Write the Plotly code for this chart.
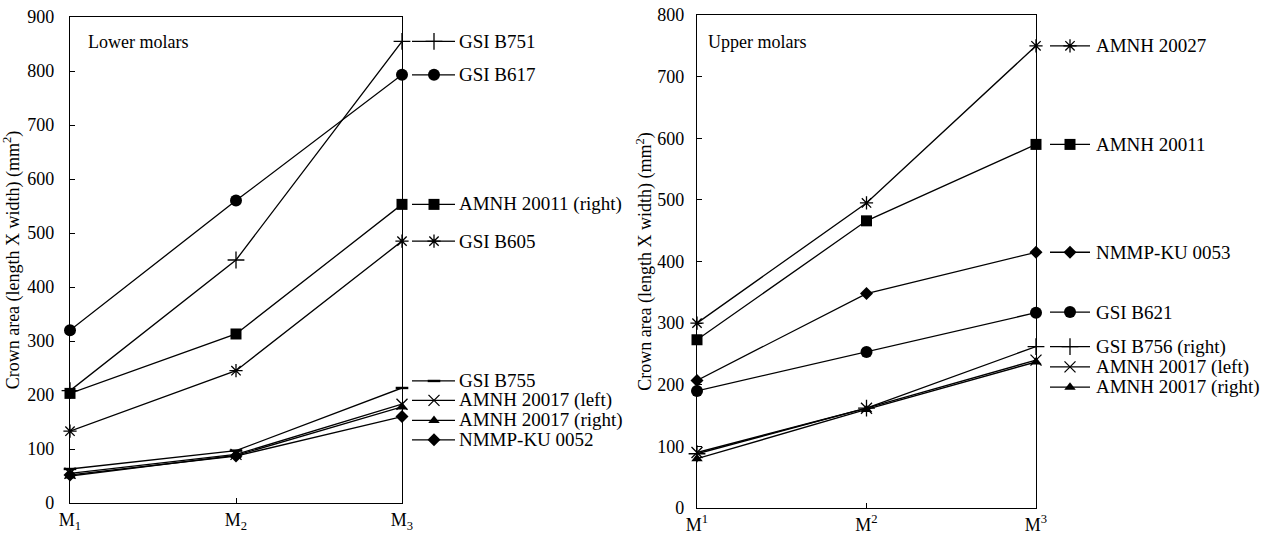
import plotly.graph_objects as go

# ---------------- data ----------------
tooth_pos = [0, 1, 2]
lower_ticks = ["M<sub>1</sub>", "M<sub>2</sub>", "M<sub>3</sub>"]
upper_ticks = ["M<sup>1</sup>", "M<sup>2</sup>", "M<sup>3</sup>"]

# Lower molars crown area (mm^2)
gsi_b751 = [208, 450, 855]
gsi_b617 = [320, 560, 793]
amnh_20011_right_lower = [203, 313, 553]
gsi_b605 = [133, 245, 485]
gsi_b755 = [63, 97, 213]
amnh_20017_left_lower = [55, 90, 183]
amnh_20017_right_lower = [50, 88, 178]
nmmp_ku_0052 = [52, 87, 160]

# Upper molars crown area (mm^2)
amnh_20027 = [300, 495, 750]
amnh_20011_upper = [273, 466, 590]
nmmp_ku_0053 = [207, 348, 415]
gsi_b621 = [190, 253, 317]
gsi_b756_right = [88, 162, 262]
amnh_20017_left_upper = [90, 162, 240]
amnh_20017_right_upper = [80, 160, 237]

# ---------------- styles ----------------
FONT = "Liberation Serif, 'Times New Roman', Times, 'DejaVu Serif', serif"
W, H = 1268, 538

# (name, values, symbol, size, label level in axis units)
lower_series = [
    ("GSI B751", gsi_b751, "cross-thin-open", 12, 855),
    ("GSI B617", gsi_b617, "circle", 12, 793),
    ("AMNH 20011 (right)", amnh_20011_right_lower, "square", 11, 553),
    ("GSI B605", gsi_b605, "asterisk-open", 11, 485),
    ("GSI B755", gsi_b755, "line-ew-open", 9, 226),
    ("AMNH 20017 (left)", amnh_20017_left_lower, "x-thin-open", 11, 190),
    ("AMNH 20017 (right)", amnh_20017_right_lower, "triangle-up", 10, 153),
    ("NMMP-KU 0052", nmmp_ku_0052, "diamond", 10, 117),
]
upper_series = [
    ("AMNH 20027", amnh_20027, "asterisk-open", 11, 750),
    ("AMNH 20011", amnh_20011_upper, "square", 11, 590),
    ("NMMP-KU 0053", nmmp_ku_0053, "diamond", 10, 415),
    ("GSI B621", gsi_b621, "circle", 12, 318),
    ("GSI B756 (right)", gsi_b756_right, "cross-thin-open", 12, 262),
    ("AMNH 20017 (left)", amnh_20017_left_upper, "x-thin-open", 11, 229),
    ("AMNH 20017 (right)", amnh_20017_right_upper, "triangle-up", 10, 196),
]

# panel geometry in pixels
L_X0, L_X1, L_Y0, L_Y1 = 70, 402, 503, 17
R_X0, R_X1, R_Y0, R_Y1 = 697, 1036, 508, 15


def dom_x(a, b):
    return [a / W, b / W]


def dom_y(bottom, top):
    return [(H - bottom) / H, (H - top) / H]


fig = go.Figure()


def marker_style(symbol, size):
    open_sym = symbol.endswith("open")
    lw = 2.4 if symbol.startswith("line") else (1.3 if open_sym else 0)
    return dict(symbol=symbol, size=size, color="black", opacity=1,
                line=dict(color="black", width=lw))


def add_panel(series, xa, ya, xa_lab, ya_lab, s0, s1, smid, tx):
    for name, vals, sym, size, lvl in series:
        fig.add_trace(go.Scatter(
            x=tooth_pos, y=vals, mode="lines+markers", xaxis=xa, yaxis=ya,
            line=dict(color="black", width=1.3), marker=marker_style(sym, size),
            cliponaxis=False, showlegend=False, hoverinfo="skip"))
        # label sample: line then marker
        fig.add_trace(go.Scatter(
            x=[s0, s1], y=[lvl, lvl], mode="lines",
            xaxis=xa_lab, yaxis=ya_lab, line=dict(color="black", width=1.3),
            cliponaxis=False, showlegend=False, hoverinfo="skip"))
        fig.add_trace(go.Scatter(
            x=[smid], y=[lvl], mode="markers",
            xaxis=xa_lab, yaxis=ya_lab, marker=marker_style(sym, size),
            cliponaxis=False, showlegend=False, hoverinfo="skip"))
        fig.add_annotation(x=tx, y=lvl, xref=xa_lab, yref=ya_lab, text=name,
                           showarrow=False, xanchor="left", yanchor="middle",
                           font=dict(family=FONT, size=19, color="black"))


add_panel(lower_series, "x", "y", "x3", "y3", 10, 53, 32, 55)
add_panel(upper_series, "x2", "y2", "x4", "y4", 14, 54, 34, 58)

axis_common = dict(showline=True, linecolor="black", linewidth=1.3, mirror=True,
                   ticks="inside", ticklen=5, tickcolor="black", tickwidth=1.3,
                   showgrid=False, zeroline=False, automargin=False,
                   tickfont=dict(family=FONT, size=18, color="black"))

ytitle = "Crown area (length X width) (mm<sup>2</sup>)"
hidden = dict(visible=False, automargin=False, showgrid=False, zeroline=False)

fig.update_layout(
    template="none",
    width=W, height=H, margin=dict(l=0, r=0, t=0, b=0, pad=0, autoexpand=False),
    paper_bgcolor="white", plot_bgcolor="white",
    font=dict(family=FONT, color="black"),
    xaxis=dict(domain=dom_x(L_X0, L_X1), anchor="y", range=[0, 2],
               tickvals=tooth_pos, ticktext=lower_ticks, **axis_common),
    yaxis=dict(domain=dom_y(L_Y0, L_Y1), anchor="x", range=[0, 900],
               tickvals=list(range(0, 901, 100)), ticklabelstandoff=11,
               title=dict(text=ytitle, standoff=3, font=dict(family=FONT, size=18, color="black")),
               **axis_common),
    xaxis2=dict(domain=dom_x(R_X0, R_X1), anchor="y2", range=[0, 2],
                tickvals=tooth_pos, ticktext=upper_ticks, **axis_common),
    yaxis2=dict(domain=dom_y(R_Y0, R_Y1), anchor="x2", range=[0, 800],
                tickvals=list(range(0, 801, 100)), ticklabelstandoff=8,
                title=dict(text=ytitle, standoff=0, font=dict(family=FONT, size=18, color="black")),
                **axis_common),
    xaxis3=dict(domain=dom_x(L_X1, 640), anchor="y3", range=[0, 640 - L_X1], **hidden),
    yaxis3=dict(domain=dom_y(L_Y0, L_Y1), anchor="x3", range=[0, 900], **hidden),
    xaxis4=dict(domain=dom_x(R_X1, W), anchor="y4", range=[0, W - R_X1], **hidden),
    yaxis4=dict(domain=dom_y(R_Y0, R_Y1), anchor="x4", range=[0, 800], **hidden),
)

fig.add_annotation(x=86 / W, y=(H - 42) / H, xref="paper", yref="paper", text="Lower molars",
                   showarrow=False, xanchor="left", yanchor="middle",
                   font=dict(family=FONT, size=18, color="black"))
fig.add_annotation(x=706 / W, y=(H - 42) / H, xref="paper", yref="paper", text="Upper molars",
                   showarrow=False, xanchor="left", yanchor="middle",
                   font=dict(family=FONT, size=18, color="black"))

fig.write_html("out.html")
